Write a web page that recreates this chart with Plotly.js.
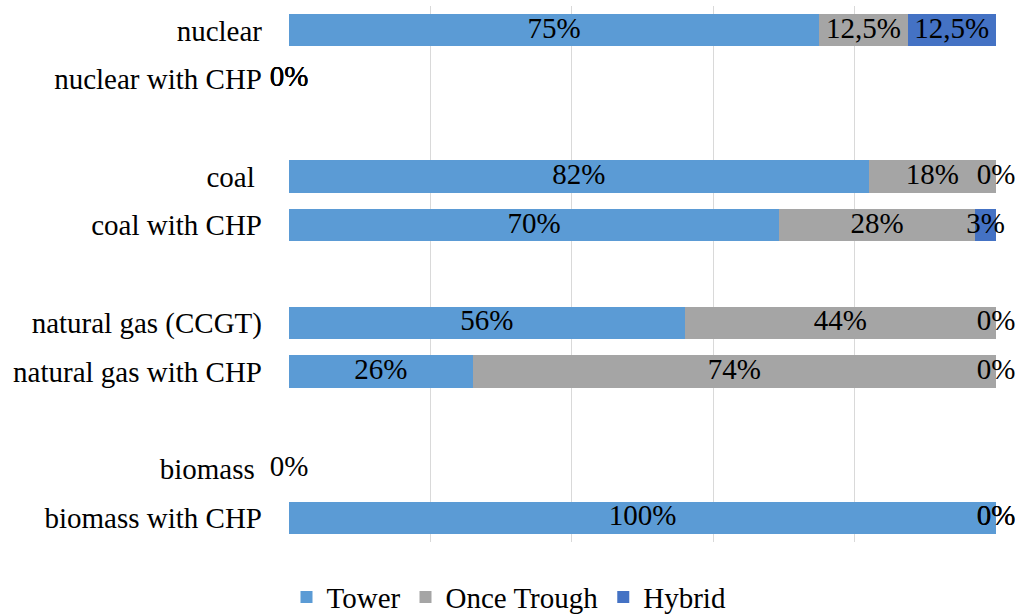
<!DOCTYPE html>
<html>
<head>
<meta charset="utf-8">
<script src="https://cdn.plot.ly/plotly-3.0.1.min.js"></script>
<style>html,body{margin:0;padding:0;background:#fff;}#chart{width:1018px;height:616px;}</style>
</head>
<body>
<div id="chart"></div>
<script>
// Category labels, top to bottom (blank entries are spacer rows)
const categories = ['nuclear', 'nuclear with CHP', '', 'coal\u00a0', 'coal with CHP', '',
  'natural gas (CCGT)', 'natural gas with CHP', '', 'biomass\u00a0', 'biomass with CHP'];
const seriesNames = ['Tower', 'Once Trough', 'Hybrid'];
// Values per row (percent labels as shown); null marks empty cells / spacer rows
const tower      = [75,   0, null, 82, 70, null, 56, 26, null, 0,    100];
const onceTrough = [12.5, 0, null, 18, 28, null, 44, 74, null, null, 0];
const hybrid     = [12.5, 0, null, 0,  3,  null, 0,  0,  null, null, 0];
const colors = ['#5B9BD5', '#A5A5A5', '#4472C4'];

const FONT = 'Liberation Serif';
const FS = 29;
const series = [tower, onceTrough, hybrid];
const rows = categories.map((c, i) => i);

// normalise each row to 100 %
const totals = rows.map(i => series.reduce((s, arr) => s + (arr[i] || 0), 0));
const norm = series.map(arr => arr.map((v, i) => v === null ? null : (totals[i] ? v / totals[i] * 100 : 0)));

const traces = series.map((arr, k) => ({
  type: 'bar', orientation: 'h', name: seriesNames[k],
  y: rows, x: norm[k],
  marker: {color: colors[k], line: {width: 0}},
  hoverinfo: 'skip'
}));

// labels
const lx = [], ly = [], lt = [];
rows.forEach(i => {
  let cum = 0;
  series.forEach((arr, k) => {
    if (arr[i] === null) return;
    const w = norm[k][i];
    lx.push(cum + w / 2);
    ly.push(i);
    lt.push(String(arr[i]).replace('.', ',') + '%');
    cum += w;
  });
});
traces.push({
  type: 'scatter', mode: 'text', x: lx, y: ly, text: lt,
  textposition: 'middle center', cliponaxis: false,
  textfont: {family: FONT, size: FS, color: '#000'},
  showlegend: false, hoverinfo: 'skip'
});

const layout = {
  width: 1018, height: 616,
  margin: {l: 289, r: 22, t: 6, b: 74, autoexpand: false},
  paper_bgcolor: '#fff', plot_bgcolor: '#fff',
  barmode: 'stack', bargap: 0.34,
  font: {family: FONT, size: FS, color: '#000'},
  showlegend: true,
  legend: {orientation: 'h', xref: 'container', x: 0.5, xanchor: 'center', y: -0.103, yanchor: 'middle',
           font: {family: FONT, size: FS, color: '#000'}, traceorder: 'normal'},
  xaxis: {range: [0, 100], tickvals: [0, 20, 40, 60, 80, 100], showticklabels: false,
          showgrid: true, gridcolor: '#D9D9D9', gridwidth: 1, zeroline: false, showline: false, ticks: '', fixedrange: true},
  yaxis: {range: [10.5, -0.5], tickvals: rows, ticktext: categories, showgrid: false, zeroline: false,
          showline: false, ticks: '', ticklabelstandoff: 26, tickfont: {family: FONT, size: FS, color: '#000'}, fixedrange: true}
};

Plotly.newPlot('chart', traces, layout, {displayModeBar: false, staticPlot: true});
</script>
</body>
</html>
